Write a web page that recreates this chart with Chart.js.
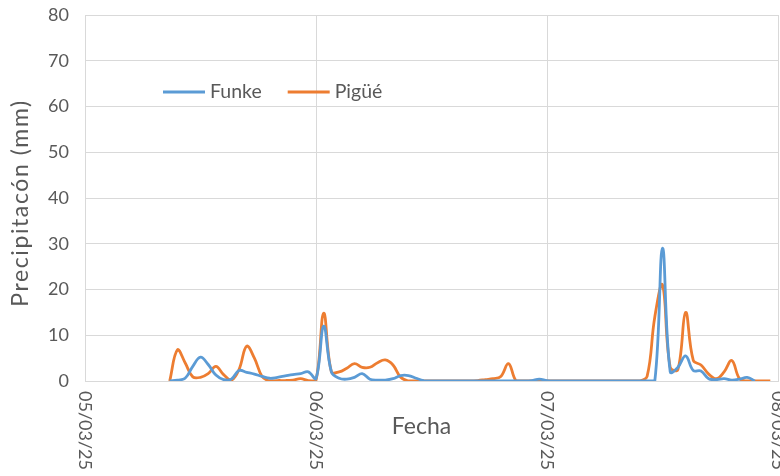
<!DOCTYPE html>
<html>
<head>
<meta charset="utf-8">
<script src="https://cdn.jsdelivr.net/npm/chart.js@4.4.0/dist/chart.umd.min.js"></script>
<style>
  html, body { margin: 0; padding: 0; background: #ffffff; }
  #wrap { width: 780px; height: 476px; }
</style>
</head>
<body>
<div id="wrap"><canvas id="c" width="780" height="476"></canvas></div>
<script>
// ---- data ----
const dateTickValues = [0, 30, 60, 90];
const dateTickLabels = ['05/03/25', '06/03/25', '07/03/25', '08/03/25'];
const seriesNames = ['Funke', 'Pigüé'];
const xAxisTitle = 'Fecha';
const yAxisTitle = 'Precipitacón (mm)';
const funkeStartDay = 11;
const funkeValues = [
  0, 0.2, 0.6, 3.2, 5.2, 3.6, 1.3, 0.3, 0.4, 2.3,
  1.9, 1.5, 1.0, 0.6, 0.8, 1.1, 1.4, 1.6, 2.0, 0.5,
  12, 2.0, 0.6, 0.4, 0.8, 1.6, 0.4, 0.2, 0.2, 0.5,
  1.2, 1.2, 0.6, 0.1, 0, 0, 0, 0, 0, 0,
  0, 0, 0, 0, 0, 0, 0, 0.1, 0.4, 0.1,
  0, 0, 0, 0, 0, 0, 0, 0, 0, 0,
  0, 0, 0, 0, 29, 2.0, 3.0, 5.5, 2.3, 2.2,
  0.5, 0.3, 0.5, 0.2, 0.4, 0.8, 0
];
const pigueStartDay = 11;
const pigueValues = [
  0, 6.8, 4.0, 0.9, 0.8, 1.6, 3.2, 1.4, 0.2, 2.5,
  7.6, 5.0, 1.0, 0, 0.1, 0.1, 0.2, 0.5, 0.1, 0.2,
  14.8, 2.0, 2.0, 2.8, 3.8, 3.0, 3.0, 4.0, 4.6, 3.5,
  0.8, 0, 0, 0, 0, 0, 0, 0, 0, 0,
  0.1, 0.3, 0.5, 1.0, 3.8, 0, 0, 0, 0, 0,
  0, 0, 0, 0, 0, 0, 0, 0, 0, 0,
  0, 0, 1.0, 14, 21, 3.0, 2.5, 15, 4.5, 3.5,
  1.5, 0.5, 2.0, 4.5, 0.5, 0, 0, 0, 0
];
const yTickMin = 0, yTickMax = 80, yTickStep = 10;

// ---- styles ----
const TEXT = '#595959';
const GRID = '#d9d9d9';
const FONT = 'Lato, "Open Sans", sans-serif';
const BLUE = '#5b9bd5';
const ORANGE = '#ed7d31';

function toPoints(start, vals) {
  return vals.map((v, i) => ({ x: start + i, y: v }));
}

const customText = {
  id: 'customText',
  afterDraw(chart) {
    const ctx = chart.ctx;
    const xs = chart.scales.x;
    const area = chart.chartArea;
    ctx.save();
    // rotated date labels (reading top to bottom)
    ctx.fillStyle = TEXT;
    ctx.font = '18px ' + FONT;
    ctx.textAlign = 'left';
    ctx.textBaseline = 'middle';
    dateTickValues.forEach((v, i) => {
      const x = xs.getPixelForValue(v);
      ctx.save();
      ctx.translate(x, area.bottom + 10);
      ctx.rotate(Math.PI / 2);
      ctx.fillText(dateTickLabels[i], 0, 0);
      ctx.restore();
    });
    // x axis title
    ctx.font = '23px ' + FONT;
    ctx.textAlign = 'center';
    ctx.fillText(xAxisTitle, (area.left + area.right) / 2 - 10, area.bottom + 46);
    // y axis title (reading bottom to top)
    ctx.save();
    ctx.font = '23px ' + FONT;
    if ('letterSpacing' in ctx) ctx.letterSpacing = '1.6px';
    ctx.translate(21, (area.top + area.bottom) / 2 + 5);
    ctx.rotate(-Math.PI / 2);
    ctx.textAlign = 'center';
    ctx.fillText(yAxisTitle, 0, 0);
    ctx.restore();
    // legend inside the plot area
    ctx.font = '19.5px ' + FONT;
    ctx.textAlign = 'left';
    let x0 = area.left + 78;
    const ly = area.top + 77;
    chart.data.datasets.forEach((ds) => {
      ctx.strokeStyle = ds.borderColor;
      ctx.lineWidth = 3;
      ctx.beginPath();
      ctx.moveTo(x0, ly);
      ctx.lineTo(x0 + 42, ly);
      ctx.stroke();
      ctx.fillStyle = TEXT;
      ctx.fillText(ds.label, x0 + 47, ly);
      x0 += 47 + ctx.measureText(ds.label).width + 26;
    });
    ctx.restore();
  }
};

new Chart(document.getElementById('c'), {
  type: 'line',
  data: {
    datasets: [
      { label: seriesNames[0], data: toPoints(funkeStartDay, funkeValues),
        borderColor: BLUE, backgroundColor: BLUE, borderWidth: 2.8, pointRadius: 0, tension: 0.4, fill: false },
      { label: seriesNames[1], data: toPoints(pigueStartDay, pigueValues),
        borderColor: ORANGE, backgroundColor: ORANGE, borderWidth: 2.8, pointRadius: 0, tension: 0.4, fill: false }
    ]
  },
  options: {
    responsive: false,
    animation: false,
    devicePixelRatio: 1,
    layout: { padding: { top: 15, right: 2, left: 0, bottom: 0 } },
    plugins: { legend: { display: false }, tooltip: { enabled: false } },
    scales: {
      x: {
        type: 'linear',
        min: dateTickValues[0],
        max: dateTickValues[dateTickValues.length - 1],
        afterBuildTicks(scale) { scale.ticks = dateTickValues.map(v => ({ value: v })); },
        afterFit(scale) { scale.height = 95; scale.paddingLeft = 0; scale.paddingRight = 0; },
        ticks: { display: false },
        grid: { color: GRID, lineWidth: 1, drawTicks: false },
        border: { color: GRID, width: 1 }
      },
      y: {
        min: yTickMin,
        max: yTickMax,
        afterFit(scale) { scale.width = 85; scale.paddingTop = 0; scale.paddingBottom = 0; },
        ticks: { stepSize: yTickStep, color: TEXT, font: { family: FONT, size: 18 }, padding: 16 },
        grid: { color: GRID, lineWidth: 1, drawTicks: false },
        border: { color: GRID, width: 1 },
        title: { display: false }
      }
    }
  },
  plugins: [customText]
});
</script>
</body>
</html>
